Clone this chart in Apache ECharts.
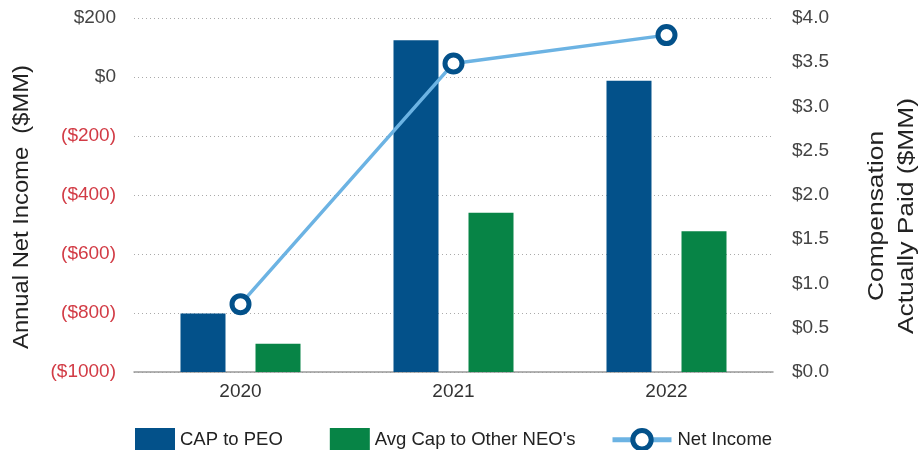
<!DOCTYPE html>
<html>
<head>
<meta charset="utf-8">
<script src="https://cdn.jsdelivr.net/npm/echarts@6/dist/echarts.min.js"></script>
<style>
  html, body { margin: 0; padding: 0; background: #fff; }
  #chart { width: 920px; height: 450px; }
</style>
</head>
<body>
<div id="chart"></div>
<script>
const years = ["2020", "2021", "2022"];
const capToPeo = [0.66, 3.75, 3.29];
const capToOtherNeos = [0.32, 1.80, 1.59];
const netIncome = [-770, 46, 142];

const font = "Liberation Sans";
const blue = "#03518a";
const green = "#078446";
const lineBlue = "#6cb3e3";
const red = "#d23b45";

const chart = echarts.init(document.getElementById("chart"));

chart.setOption({
  animation: false,
  textStyle: { fontFamily: font },
  grid: { left: 134, right: 147, top: 18, bottom: 78 },
  legend: [
    {
      data: ["CAP to PEO", "Avg Cap to Other NEO's"],
      icon: "rect",
      left: 135,
      top: 428,
      padding: 0,
      itemWidth: 40,
      itemHeight: 24,
      itemGap: 47,
      textStyle: { fontSize: 18.5, color: "#222" }
    },
    {
      data: ["Net Income"],
      left: 610,
      top: 428,
      padding: 0,
      itemWidth: 59,
      itemHeight: 23,
      lineStyle: { width: 5 },
      itemStyle: { borderWidth: 5 },
      textStyle: { fontSize: 18.5, color: "#222", padding: [0, 0, 0, 1] }
    }
  ],
  xAxis: {
    type: "category",
    data: years,
    axisLine: { onZero: false, lineStyle: { color: "#999", width: 1.5 } },
    axisTick: { inside: true, length: 9, lineStyle: { color: "#bbb" } },
    axisLabel: { fontSize: 19, color: "#333", margin: 10 }
  },
  yAxis: [
    {
      type: "value",
      min: -1000,
      max: 200,
      interval: 200,
      axisLine: { show: false },
      axisTick: { show: false },
      splitLine: { lineStyle: { color: "#aaa", type: [1, 3], width: 1 } },
      axisLabel: {
        fontSize: 19,
        margin: 18,
        color: (v) => (v < 0 ? red : "#444"),
        formatter: (v) => (v < 0 ? "($" + Math.abs(v) + ")" : "$" + v)
      }
    },
    {
      type: "value",
      min: 0,
      max: 4,
      interval: 0.5,
      axisLine: { show: false },
      axisTick: { show: false },
      splitLine: { show: false },
      axisLabel: {
        fontSize: 19,
        margin: 19,
        color: "#444",
        formatter: (v) => "$" + v.toFixed(1)
      }
    }
  ],
  series: [
    {
      name: "CAP to PEO",
      type: "bar",
      yAxisIndex: 1,
      data: capToPeo,
      barWidth: 45,
      barGap: "66.7%",
      itemStyle: { color: blue }
    },
    {
      name: "Avg Cap to Other NEO's",
      type: "bar",
      yAxisIndex: 1,
      data: capToOtherNeos,
      barWidth: 45,
      itemStyle: { color: green }
    },
    {
      name: "Net Income",
      type: "line",
      yAxisIndex: 0,
      data: netIncome,
      z: 5,
      symbol: "circle",
      symbolSize: 17,
      lineStyle: { color: lineBlue, width: 3.5 },
      itemStyle: { color: "#fff", borderColor: blue, borderWidth: 5 }
    }
  ],
  graphic: [
    {
      type: "text",
      x: 22,
      y: 207,
      rotation: Math.PI / 2,
      scaleX: 1.08,
      style: {
        text: "Annual Net Income  ($MM)",
        font: "22px " + font,
        fill: "#222",
        align: "center",
        verticalAlign: "middle"
      }
    },
    {
      type: "text",
      x: 892,
      y: 216,
      rotation: Math.PI / 2,
      scaleX: 1.2,
      style: {
        text: "Compensation\nActually Paid ($MM)",
        font: "22px " + font,
        lineHeight: 30,
        fill: "#222",
        align: "center",
        verticalAlign: "middle"
      }
    }
  ]
});
</script>
</body>
</html>
